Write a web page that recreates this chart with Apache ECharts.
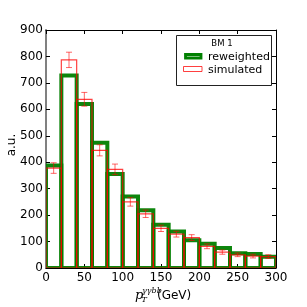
<!DOCTYPE html>
<html>
<head>
<meta charset="utf-8">
<script src="https://cdn.jsdelivr.net/npm/echarts@6/dist/echarts.min.js"></script>
<style>html,body{margin:0;padding:0;background:#fff;}#c{width:307px;height:307px;}</style>
</head>
<body>
<div id="c"></div>
<script>
// ---- data ----
const binEdges = [0, 20, 40, 60, 80, 100, 120, 140, 160, 180, 200, 220, 240, 260, 280, 300];
const reweighted = [388, 728, 620, 474, 355, 270, 218, 164, 138, 105, 92, 76, 56, 53, 43];
const simulated = [378, 787, 638, 445, 373, 250, 205, 150, 128, 115, 82, 60, 50, 45, 43];
const simulatedErr = [20, 29, 26, 21, 20, 16, 14, 12, 11, 11, 9, 8, 7, 7, 7];
const xTicks = [0, 50, 100, 150, 200, 250, 300];
const yTicks = [0, 100, 200, 300, 400, 500, 600, 700, 800, 900];
const legendTitle = 'BM 1';
const seriesNames = ['reweighted', 'simulated'];
const yName = 'a.u.';

// ---- build ----
const histData = vals => vals.map((v, i) => [binEdges[i], binEdges[i + 1], v]);
const errData = simulated.map((v, i) => [(binEdges[i] + binEdges[i + 1]) / 2, v, simulatedErr[i]]);

function histItem(color, lw, opacity) {
  return function (params, api) {
    const a = api.coord([api.value(0), api.value(2)]);
    const b = api.coord([api.value(1), 0]);
    return {
      type: 'rect',
      shape: { x: a[0], y: a[1], width: b[0] - a[0], height: b[1] - a[1] },
      style: { fill: 'none', stroke: color, lineWidth: lw, opacity: opacity }
    };
  };
}
function errItem(params, api) {
  const x = api.value(0), v = api.value(1), e = api.value(2);
  const top = api.coord([x, v + e]);
  const bot = api.coord([x, v - e]);
  const cap = 3;
  const st = { stroke: '#ff0000', lineWidth: 1, opacity: 0.6 };
  return {
    type: 'group',
    children: [
      { type: 'line', shape: { x1: top[0], y1: top[1], x2: bot[0], y2: bot[1] }, style: st },
      { type: 'line', shape: { x1: top[0] - cap, y1: top[1], x2: top[0] + cap, y2: top[1] }, style: st },
      { type: 'line', shape: { x1: bot[0] - cap, y1: bot[1], x2: bot[0] + cap, y2: bot[1] }, style: st }
    ]
  };
}

const xMin = xTicks[0], xMax = xTicks[xTicks.length - 1];
const yMin = yTicks[0], yMax = yTicks[yTicks.length - 1];
const xInt = xTicks[1] - xTicks[0], yInt = yTicks[1] - yTicks[0];
const font = 'DejaVu Sans';

const chart = echarts.init(document.getElementById('c'), null, { renderer: 'canvas' });
chart.setOption({
  animation: false,
  backgroundColor: '#fff',
  grid: { left: 46, right: 31, top: 30, bottom: 39, containLabel: false, outerBoundsMode: 'none' },
  xAxis: [
    {
      type: 'value', min: xMin, max: xMax, interval: xInt, position: 'bottom',
      axisLine: { show: true, onZero: false, lineStyle: { color: '#000', width: 1 } },
      axisTick: { show: true, inside: true, length: 4, lineStyle: { color: '#000' } },
      axisLabel: { show: true, color: '#000', fontSize: 12, fontFamily: font, margin: 4 },
      splitLine: { show: false }
    },
    {
      type: 'value', min: xMin, max: xMax, interval: xInt, position: 'top',
      axisLine: { show: true, onZero: false, lineStyle: { color: '#000', width: 1 } },
      axisTick: { show: true, inside: true, length: 4, lineStyle: { color: '#000' } },
      axisLabel: { show: false }, splitLine: { show: false }
    }
  ],
  yAxis: [
    {
      type: 'value', min: yMin, max: yMax, interval: yInt, position: 'left',
      axisLine: { show: true, onZero: false, lineStyle: { color: '#808080', width: 2 } },
      axisTick: { show: true, inside: true, length: 4, lineStyle: { color: '#000' } },
      axisLabel: { show: true, color: '#000', fontSize: 12, fontFamily: font, margin: 3 },
      splitLine: { show: false }
    },
    {
      type: 'value', min: yMin, max: yMax, interval: yInt, position: 'right',
      axisLine: { show: true, onZero: false, lineStyle: { color: '#000', width: 1 } },
      axisTick: { show: true, inside: true, length: 4, lineStyle: { color: '#000' } },
      axisLabel: { show: false }, splitLine: { show: false }
    }
  ],
  series: [
    {
      name: seriesNames[0], type: 'custom', clip: true, renderItem: histItem('#008000', 4, 0.95),
      encode: { x: [0, 1], y: 2 }, data: histData(reweighted), z: 2
    },
    {
      name: seriesNames[1], type: 'custom', clip: true, renderItem: histItem('#ff0000', 1.2, 0.75),
      encode: { x: [0, 1], y: 2 }, data: histData(simulated), z: 3
    },
    {
      name: seriesNames[1] + ' err', type: 'custom', clip: true, renderItem: errItem,
      encode: { x: 0, y: 1 }, data: errData, z: 4
    }
  ],
  graphic: [
    { type: 'text', x: 12, y: 145, rotation: Math.PI / 2, z: 11,
      style: { text: yName, fontSize: 12, fontFamily: font, fill: '#000', align: 'center', verticalAlign: 'middle' } },
    { type: 'rect', shape: { x: 176.5, y: 35.5, width: 95, height: 50 },
      style: { fill: '#fff', stroke: '#222', lineWidth: 1 }, z: 10 },
    { type: 'text', x: 222, y: 43.5, z: 11,
      style: { text: legendTitle, fontSize: 8.5, fontFamily: font, fill: '#000', align: 'center', verticalAlign: 'middle' } },
    { type: 'rect', shape: { x: 185.5, y: 54.5, width: 15.5, height: 3.5 },
      style: { fill: '#fff', stroke: '#008000', lineWidth: 2.8 }, z: 11 },
    { type: 'text', x: 208, y: 57, z: 11,
      style: { text: seriesNames[0], fontSize: 11, fontFamily: font, fill: '#000', align: 'left', verticalAlign: 'middle' } },
    { type: 'rect', shape: { x: 183.5, y: 66.5, width: 18.5, height: 5 },
      style: { fill: '#fff', stroke: '#ff0000', lineWidth: 1, opacity: 0.75 }, z: 11 },
    { type: 'text', x: 208, y: 70.5, z: 11,
      style: { text: seriesNames[1], fontSize: 11, fontFamily: font, fill: '#000', align: 'left', verticalAlign: 'middle' } },
    // x-axis title p_T^{γγbb}(GeV)
    { type: 'text', x: 135, y: 296, z: 11,
      style: { text: 'p', fontSize: 13, fontStyle: 'italic', fontFamily: 'DejaVu Serif', fill: '#000', align: 'left', verticalAlign: 'middle' } },
    { type: 'text', x: 141.5, y: 300, z: 11,
      style: { text: 'T', fontSize: 8, fontStyle: 'italic', fontFamily: 'DejaVu Serif', fill: '#000', align: 'left', verticalAlign: 'middle' } },
    { type: 'text', x: 142, y: 291, z: 11,
      style: { text: 'γγbb', fontSize: 8, fontStyle: 'italic', fontFamily: 'DejaVu Serif', fill: '#000', align: 'left', verticalAlign: 'middle' } },
    { type: 'text', x: 157, y: 296, z: 11,
      style: { text: '(GeV)', fontSize: 12, fontFamily: font, fill: '#000', align: 'left', verticalAlign: 'middle' } }
  ]
});
</script>
</body>
</html>
